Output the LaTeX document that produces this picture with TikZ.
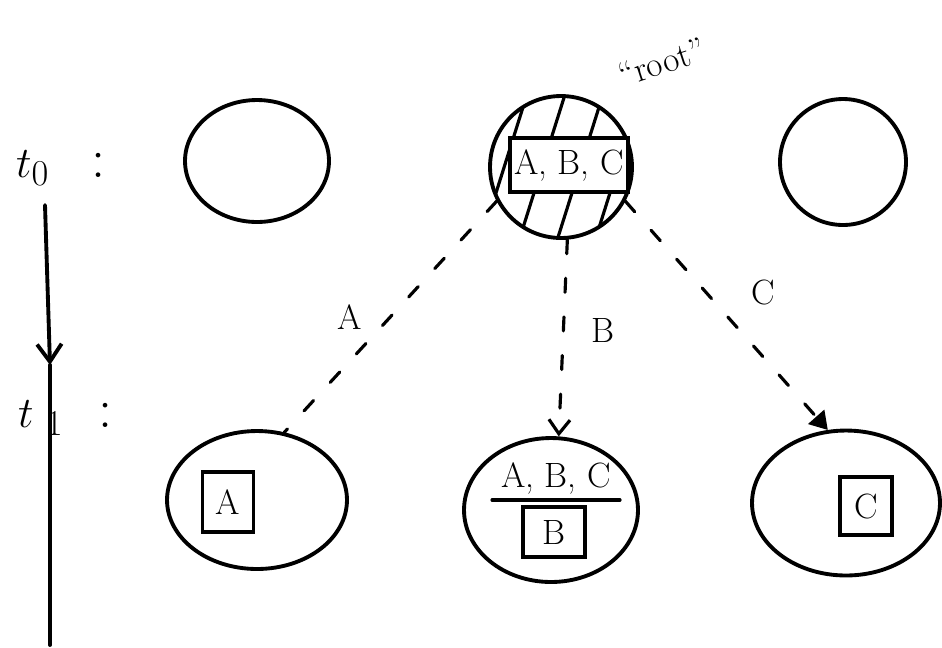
\documentclass[tikz,border=0pt]{standalone}
\usepackage{tikz}
\usetikzlibrary{shapes.geometric,arrows.meta,positioning}

\tikzset{
  blob/.style={draw, line width=2.2pt, ellipse, inner sep=0pt},
  dashedge/.style={line width=1.8pt, dash pattern=on 8pt off 14pt},
  setbox/.style={draw, line width=2pt, fill=white, inner sep=0pt},
  hand/.style={font=\fontsize{20}{24}\selectfont},
  timelbl/.style={font=\fontsize{32}{36}\selectfont, anchor=west},
}

\begin{document}
\begin{tikzpicture}[x=0.02cm, y=-0.02cm, line cap=round]
  \useasboundingbox (0,0) rectangle (942,647);

  % time axis
  \node[timelbl] (t0) at (10,168) {$t_0$\hspace{24pt}:};
  \node[timelbl] (t1) at (12,418) {$t_{\hspace{7pt}1}$\hspace{20pt}:};
  \coordinate (axtop) at (45,205);
  \coordinate (axmid) at (50,365);
  \coordinate (axend) at (50,645);
  \draw[line width=2.2pt, -{Straight Barb[length=10pt,width=14pt]}] (axtop) -- (axmid);
  \draw[line width=2.2pt] (axmid) -- (axend);

  % states at t0
  \node[blob, minimum width=2.88cm, minimum height=2.44cm] (s0l) at (257,161) {};
  \node[blob, minimum width=2.84cm, minimum height=2.84cm] (root) at (561,167) {};
  \node[blob, minimum width=2.52cm, minimum height=2.52cm] (s0r) at (843,162) {};

  % hatching of the root
  \begin{scope}
    \clip (root.center) circle[radius=1.42cm];
    \foreach \h in {440,478,...,680}
      \draw[line width=1.8pt] (\h,250) -- (\h+52,85);
  \end{scope}
  \node[setbox, minimum width=2.36cm, minimum height=1.08cm, hand] (rootset) at (569,165) {A, B, C};
  \node[hand, rotate=18] (rootlbl) at (662,62) {``root''};

  % states at t1
  \node[blob, minimum width=3.6cm, minimum height=2.76cm] (nA) at (257,500) {};
  \node[blob, minimum width=3.48cm, minimum height=2.88cm] (nB) at (551,510) {};
  \node[blob, minimum width=3.76cm, minimum height=2.9cm] (nC) at (846,503) {};

  \node[setbox, minimum width=1.02cm, minimum height=1.2cm, hand] (boxA) at (228,502) {A};
  \node[hand, minimum width=2.54cm] (setB) at (556,478) {A, B, C};
  \draw[line width=2pt] (setB.south west) -- (setB.south east);
  \node[setbox, minimum width=1.24cm, minimum height=1.0cm, hand] (boxB) at (554,532) {B};
  \node[setbox, minimum width=1.04cm, minimum height=1.16cm, hand] (boxC) at (866,506) {C};

  % transitions
  \draw[dashedge] (root.208) -- (nA.68)
    node[hand, pos=0.5, left=12pt] {A};
  \draw[dashedge, -{Straight Barb[length=8pt,width=12pt]}] (root.-85) -- (nB.84)
    node[hand, pos=0.46, right=12pt] {B};
  \draw[dashedge, -{Triangle[length=10pt,width=12pt]}] (root.-28) -- (nC.104)
    node[hand, pos=0.5, above right=2pt and 10pt] {C};
\end{tikzpicture}
\end{document}
